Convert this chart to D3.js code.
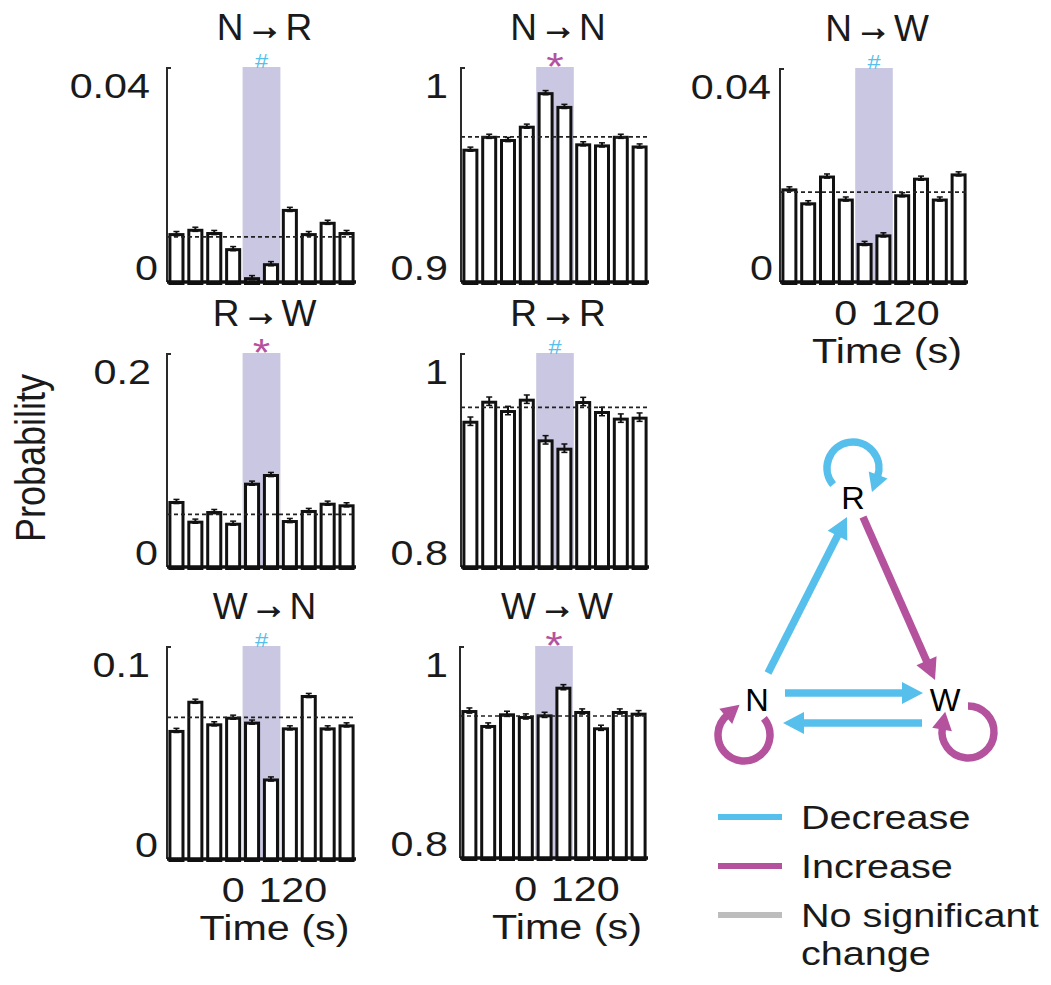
<!DOCTYPE html>
<html>
<head>
<meta charset="utf-8">
<script src="https://cdn.jsdelivr.net/npm/d3@7"></script>
<style>
  body { margin: 0; background: #fff; }
  svg { display: block; }
  text { font-family: "Liberation Sans", Arial, Helvetica, sans-serif; fill: #1a1a1a; }
</style>
</head>
<body>
<svg id="fig" width="1051" height="985"></svg>
<script>
// ---- data ---------------------------------------------------------------
// transitions between states: N (NREM), R (REM), W (wake)
const transitionFrom = ["N", "N", "N", "R", "R", "W", "W"];
const transitionTo   = ["R", "N", "W", "W", "R", "N", "W"];
// direction of the significant change during the stimulation window
const changeType = ["decrease", "increase", "decrease", "increase", "decrease", "decrease", "increase"];

// y-axis limits and tick labels per transition
const yLimits = [[0, 0.04], [0.9, 1], [0, 0.04], [0, 0.2], [0.8, 1], [0, 0.1], [0.8, 1]];
const yTickLabels = [["0", "0.04"], ["0.9", "1"], ["0", "0.04"], ["0", "0.2"], ["0.8", "1"], ["0", "0.1"], ["0.8", "1"]];

// mean transition probability in ten consecutive time bins
const probNR = [0.0091, 0.0099, 0.0093, 0.0063, 0.0009, 0.0035, 0.0136, 0.0091, 0.0112, 0.0093];
const probNN = [0.962, 0.968, 0.9665, 0.9727, 0.9883, 0.9819, 0.9645, 0.964, 0.968, 0.9635];
const probNW = [0.0175, 0.0149, 0.0199, 0.0156, 0.0073, 0.0089, 0.0164, 0.0195, 0.0156, 0.0203];
const probRW = [0.0617, 0.0433, 0.0523, 0.0414, 0.0788, 0.0869, 0.0439, 0.0533, 0.0601, 0.0586];
const probRR = [0.9367, 0.9554, 0.9467, 0.9573, 0.9193, 0.9115, 0.9551, 0.9458, 0.9396, 0.9405];
const probWN = [0.0606, 0.0743, 0.0637, 0.0668, 0.0645, 0.0378, 0.0618, 0.077, 0.0618, 0.0632];
const probWW = [0.9396, 0.9255, 0.9365, 0.934, 0.9355, 0.9616, 0.9387, 0.9233, 0.9387, 0.9371];

// standard error per panel (one value for all bins)
const semByPanel = [0.0002, 0.0005, 0.0002, 0.001, 0.003, 0.0005, 0.0015];
// baseline (dashed line) per panel
const baselineProb = [0.0084, 0.9675, 0.0168, 0.0492, 0.9492, 0.0665, 0.934];

// stimulation window covers bins 4 and 5
const stimBins = [4, 5];
// x tick labels (s) and the bins they sit under
const xTickLabels = ["0", "120"];
const xTickBins = [3, 6];

const allProbs = [probNR, probNN, probNW, probRW, probRR, probWN, probWW];
const nBins = probNR.length;

// ---- layout -------------------------------------------------------------
// gap: distance of the [low, high] y tick label from the axis line
const panelBoxes = [
  { x0: 167, x1: 356, y0: 67,  y1: 282, xAxis: false, gap: [9, 17] },
  { x0: 461, x1: 649, y0: 67,  y1: 282, xAxis: false, gap: [13, 13] },
  { x0: 780, x1: 968, y0: 68,  y1: 282, xAxis: true,  gap: [7, 9] },
  { x0: 167, x1: 356, y0: 353, y1: 567, xAxis: false, gap: [9, 16] },
  { x0: 461, x1: 649, y0: 353, y1: 567, xAxis: false, gap: [13, 13] },
  { x0: 167, x1: 356, y0: 646, y1: 859, xAxis: true,  gap: [9, 17] },
  { x0: 460, x1: 648, y0: 646, y1: 858, xAxis: true,  gap: [12, 12] }
];

const COLORS = { decrease: "#56BFEC", increase: "#B5529E", none: "#BDBDBD", shade: "#C9C7E1" };
const SX = 1.18;   // horizontal stretch of the tick / axis lettering
const svg = d3.select("#fig");

function label(g, x, y, str, size, anchor, sx) {
  return g.append("text")
    .attr("transform", `translate(${x},${y}) scale(${sx === undefined ? SX : sx},1)`)
    .attr("text-anchor", anchor || "start")
    .attr("font-size", size)
    .text(str);
}

// ---- bar panels ---------------------------------------------------------
panelBoxes.forEach((box, p) => {
  const g = svg.append("g");
  const values = allProbs[p];
  const x = d3.scaleBand().domain(d3.range(nBins)).range([box.x0, box.x1])
    .paddingInner(0.15).paddingOuter(0.075);
  const y = d3.scaleLinear().domain(yLimits[p]).range([box.y1, box.y0]);
  const gap = x.step() - x.bandwidth();

  // stimulation window shading
  const sx0 = x(stimBins[0]) - gap / 2;
  const sx1 = x(stimBins[stimBins.length - 1]) + x.bandwidth() + gap / 2;
  g.append("rect")
    .attr("x", sx0).attr("y", y(yLimits[p][1]))
    .attr("width", sx1 - sx0).attr("height", y(yLimits[p][0]) - y(yLimits[p][1]))
    .attr("fill", COLORS.shade);

  // bars
  const sw = 3;
  g.selectAll("rect.bar").data(values).join("rect")
    .attr("class", "bar")
    .attr("x", (d, i) => x(i) + sw / 2)
    .attr("width", x.bandwidth() - sw)
    .attr("y", d => y(d) + sw / 2)
    .attr("height", d => y(yLimits[p][0]) - y(d))
    .attr("fill", "#fff").attr("stroke", "#111").attr("stroke-width", sw);

  // error bars
  const sem = semByPanel[p];
  const eb = g.selectAll("g.err").data(values).join("g").attr("class", "err");
  const xc = i => x(i) + x.bandwidth() / 2;
  eb.append("line")
    .attr("x1", (d, i) => xc(i)).attr("x2", (d, i) => xc(i))
    .attr("y1", d => y(d + sem) - 0.5).attr("y2", d => y(d - sem) + 1.5)
    .attr("stroke", "#111").attr("stroke-width", 2);
  [1, -1].forEach(s => {
    eb.append("line")
      .attr("x1", (d, i) => xc(i) - 3).attr("x2", (d, i) => xc(i) + 3)
      .attr("y1", d => y(d + s * sem) + (s > 0 ? -0.5 : 1.5))
      .attr("y2", d => y(d + s * sem) + (s > 0 ? -0.5 : 1.5))
      .attr("stroke", "#111").attr("stroke-width", 1.5);
  });

  // baseline
  g.append("line")
    .attr("x1", box.x0).attr("x2", box.x1)
    .attr("y1", y(baselineProb[p])).attr("y2", y(baselineProb[p]))
    .attr("stroke", "#222").attr("stroke-width", 1.6).attr("stroke-dasharray", "4,3");

  // axes
  g.append("line").attr("x1", box.x0).attr("x2", box.x0)
    .attr("y1", y(yLimits[p][1])).attr("y2", y(yLimits[p][0]))
    .attr("stroke", "#2a2a2a").attr("stroke-width", 2);
  g.append("line").attr("x1", box.x0).attr("x2", box.x0 + 4)
    .attr("y1", y(yLimits[p][1]) + 1).attr("y2", y(yLimits[p][1]) + 1)
    .attr("stroke", "#2a2a2a").attr("stroke-width", 2);
  g.append("line").attr("x1", box.x0).attr("x2", box.x1)
    .attr("y1", y(yLimits[p][0])).attr("y2", y(yLimits[p][0]))
    .attr("stroke", "#111").attr("stroke-width", 3.5);

  // y tick labels: bottom label sits on the baseline, top label hangs under the top
  const [lowLab, highLab] = yTickLabels[p];
  label(g, box.x0 - box.gap[0], y(yLimits[p][0]) - 2, lowLab, 35, "end");
  label(g, box.x0 - box.gap[1], y(yLimits[p][1]) + 31, highLab, 35, "end");

  // title: "from → to"
  const cx = (box.x0 + box.x1) / 2 + 3;
  const title = label(g, cx, box.y0 - 27, "", 37, "middle", 1);
  title.append("tspan").text(transitionFrom[p]);
  title.append("tspan").attr("font-size", 38).attr("dx", 3).attr("dy", -1)
    .attr("textLength", 36).attr("lengthAdjust", "spacingAndGlyphs")
    .attr("stroke", "#1a1a1a").attr("stroke-width", 1.1).text("\u2192");
  title.append("tspan").attr("dx", 3).attr("dy", 1).text(transitionTo[p]);

  // significance marker above the window
  const mx = (sx0 + sx1) / 2;
  if (changeType[p] === "decrease") {
    label(g, mx, y(yLimits[p][1]) + 1, "#", 20, "middle").style("fill", COLORS.decrease);
  } else {
    label(g, mx, y(yLimits[p][1]) + 13, "*", 38, "middle").style("fill", COLORS.increase);
  }

  // x axis labels
  if (box.xAxis) {
    const dx = [0, 3];
    xTickBins.forEach((b, k) => {
      label(g, xc(b) + dx[k], y(yLimits[p][0]) + 43, xTickLabels[k], 35, "middle");
    });
    label(g, cx + 10, y(yLimits[p][0]) + 81, "Time (s)", 35, "middle");
  }
});

// shared y label
svg.append("text")
  .attr("transform", `translate(45,458) scale(${SX},1) rotate(-90)`)
  .attr("text-anchor", "middle").attr("font-size", 36).text("Probability");

// ---- state diagram ------------------------------------------------------
const nodes = { R: [853, 498], N: [757, 700], W: [945, 700] };
const arrowColor = (from, to) => {
  const i = transitionFrom.findIndex((f, k) => f === from && transitionTo[k] === to);
  return i < 0 ? COLORS.none : COLORS[changeType[i]];
};
const dg = svg.append("g");

function arrowHead(tip, dir, color, len, half) {
  const [ux, uy] = dir;
  const bx = tip[0] - ux * len, by = tip[1] - uy * len;
  dg.append("path")
    .attr("d", `M${tip[0]},${tip[1]}L${bx - uy * half},${by + ux * half}L${bx + uy * half},${by - ux * half}Z`)
    .attr("fill", color);
  return [bx, by];
}

// straight edges: offsets of start / tip from node label centres
const edges = [
  { from: "N", to: "R", s: [11, -27], t: [-6, 19] },
  { from: "R", to: "W", s: [10, 19],  t: [-10, -20] },
  { from: "N", to: "W", s: [28, -7],  t: [-22, -7] },
  { from: "W", to: "N", s: [-23, 23], t: [26, 23] }
];
edges.forEach(e => {
  const c = arrowColor(e.from, e.to);
  const s = [nodes[e.from][0] + e.s[0], nodes[e.from][1] + e.s[1]];
  const t = [nodes[e.to][0] + e.t[0], nodes[e.to][1] + e.t[1]];
  const L = Math.hypot(t[0] - s[0], t[1] - s[1]);
  const u = [(t[0] - s[0]) / L, (t[1] - s[1]) / L];
  const base = arrowHead(t, u, c, 21, 11);
  dg.append("line")
    .attr("x1", s[0]).attr("y1", s[1])
    .attr("x2", base[0] + u[0] * 2).attr("y2", base[1] + u[1] * 2)
    .attr("stroke", c).attr("stroke-width", 7.5);
});

// self loops: centre offset from the node, radius, start/end angle (deg, clockwise)
const loops = [
  { node: "R", c: [0, -30],  r: 26, a0: 140, a1: 380 },
  { node: "N", c: [-13, 35], r: 26, a0: 320, a1: 590 },
  { node: "W", c: [23, 32],  r: 26, a0: 270, a1: 550 }
];
loops.forEach(l => {
  const col = arrowColor(l.node, l.node);
  const cx = nodes[l.node][0] + l.c[0], cy = nodes[l.node][1] + l.c[1];
  const rad = a => a * Math.PI / 180;
  const p0 = [cx + l.r * Math.cos(rad(l.a0)), cy + l.r * Math.sin(rad(l.a0))];
  const p1 = [cx + l.r * Math.cos(rad(l.a1)), cy + l.r * Math.sin(rad(l.a1))];
  const large = (l.a1 - l.a0) > 180 ? 1 : 0;
  dg.append("path")
    .attr("d", `M${p0[0]},${p0[1]}A${l.r},${l.r} 0 ${large} 1 ${p1[0]},${p1[1]}`)
    .attr("fill", "none").attr("stroke", col).attr("stroke-width", 7.5);
  const tang = [-Math.sin(rad(l.a1)), Math.cos(rad(l.a1))];
  const tip = [p1[0] + tang[0] * 16, p1[1] + tang[1] * 16];
  arrowHead(tip, tang, col, 18, 10);
});

// node labels
Object.entries(nodes).forEach(([k, [nx, ny]]) => {
  label(dg, nx, ny + 11, k, 31, "middle", 1.05).style("fill", "#000");
});

// ---- legend -------------------------------------------------------------
const legendItems = [
  { key: "decrease", lines: ["Decrease"] },
  { key: "increase", lines: ["Increase"] },
  { key: "none", lines: ["No significant", "change"] }
];
const lg = svg.append("g");
legendItems.forEach((it, i) => {
  const ly = 817 + i * 49;
  lg.append("line").attr("x1", 718).attr("x2", 782).attr("y1", ly).attr("y2", ly)
    .attr("stroke", COLORS[it.key]).attr("stroke-width", 6);
  it.lines.forEach((t, j) => {
    label(lg, 801, ly + 12 + j * 38, t, 33, "start", 1.2);
  });
});
</script>
</body>
</html>
